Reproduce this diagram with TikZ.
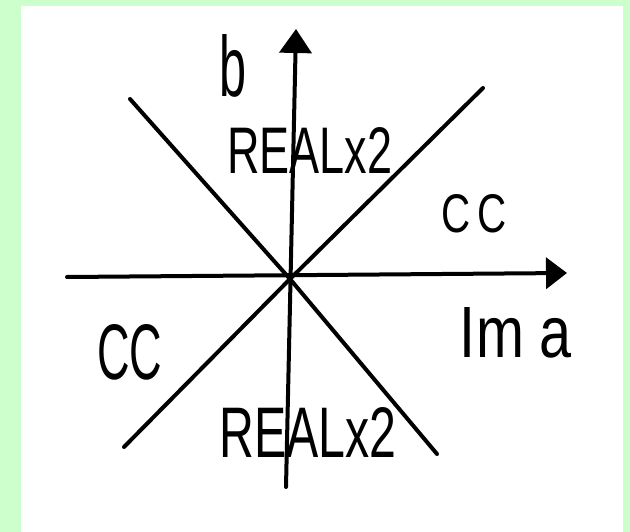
\documentclass[tikz,border=0pt]{standalone}
\usepackage{fontspec}
\setmainfont{Liberation Sans}
\usetikzlibrary{arrows.meta}
\definecolor{bggreen}{RGB}{204,255,204}
\begin{document}
\begin{tikzpicture}[x=1pt,y=-1pt,
  axis/.style={line width=4pt, line cap=round},
  lbl/.style={inner sep=0pt, anchor=center}]
\useasboundingbox (0,0) rectangle (630,532);
\fill[bggreen] (0,0) rectangle (630,532);
\fill[white] (21,6) rectangle (623,532);
\coordinate (O) at (290,279);
\coordinate (ybot) at (286,487);
\coordinate (ytop) at (296,29);
\coordinate (xl) at (67,277);
\coordinate (xr) at (567,273);
\coordinate (d1a) at (130,99);
\coordinate (d1b) at (437,454);
\coordinate (d2a) at (124,447);
\coordinate (d2b) at (483,88);
\draw[axis] (d1a) -- (O) -- (d1b);
\draw[axis] (d2a) -- (O) -- (d2b);
\draw[axis, -{Triangle[width=32pt,length=24pt]}] (ybot) -- (ytop);
\draw[axis, -{Triangle[width=31pt,length=21pt]}] (xl) -- (xr);
\node[lbl] (lb) at (233,66) {\resizebox{27pt}{62pt}{b}};
\node[lbl] (lr1) at (310,150) {\resizebox{165pt}{46pt}{REALx2}};
\node[lbl] (lr2) at (308,432) {\resizebox{177pt}{50pt}{REALx2}};
\node[lbl] (lcc1) at (474,214) {\resizebox{65pt}{38pt}{C\,C}};
\node[lbl] (lcc2) at (130,352) {\resizebox{65pt}{55pt}{CC}};
\node[lbl] (lim) at (516,333) {\resizebox{112pt}{50pt}{Im a}};
\end{tikzpicture}
\end{document}
